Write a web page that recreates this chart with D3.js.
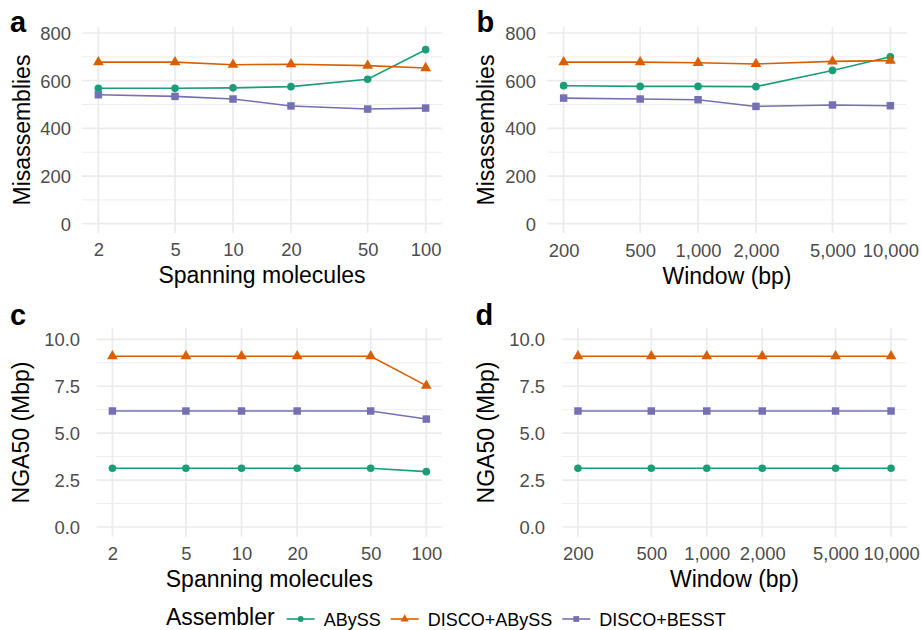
<!DOCTYPE html>
<html><head><meta charset="utf-8">
<script src="https://cdn.jsdelivr.net/npm/d3@7"></script>
<style>
body{margin:0;background:#fff;}
svg{display:block;font-family:"Liberation Sans",Arial,Helvetica,sans-serif;}
</style></head><body>
<svg id="chart" width="921" height="630"></svg>
<script>
// ---------- data ----------
const spanningMolecules = [2, 5, 10, 20, 50, 100];
const spanningTickLabels = ["2", "5", "10", "20", "50", "100"];
const windowSizes = [200, 500, 1000, 2000, 5000, 10000];
const windowTickLabels = ["200", "500", "1,000", "2,000", "5,000", "10,000"];
const assemblers = ["ABySS", "DISCO+ABySS", "DISCO+BESST"];

const misTicks = [0, 200, 400, 600, 800];
const misTickLabels = ["0", "200", "400", "600", "800"];
const misMinorTicks = [100, 300, 500, 700];
const ngaTicks = [0, 2.5, 5, 7.5, 10];
const ngaTickLabels = ["0.0", "2.5", "5.0", "7.5", "10.0"];
const ngaMinorTicks = [1.25, 3.75, 6.25, 8.75];

// panel a: misassemblies vs spanning molecules
const misSpanABySS      = [568, 568, 570, 575, 606, 730];
const misSpanDiscoABySS = [678, 678, 667, 669, 663, 653];
const misSpanDiscoBESST = [541, 534, 523, 494, 481, 485];
// panel b: misassemblies vs window
const misWinABySS      = [579, 576, 576, 575, 643, 700];
const misWinDiscoABySS = [678, 678, 675, 670, 681, 684];
const misWinDiscoBESST = [527, 523, 520, 492, 498, 495];
// panel c: NGA50 vs spanning molecules
const ngaSpanABySS      = [3.13, 3.13, 3.13, 3.13, 3.13, 2.95];
const ngaSpanDiscoABySS = [9.10, 9.10, 9.10, 9.10, 9.10, 7.53];
const ngaSpanDiscoBESST = [6.18, 6.18, 6.18, 6.18, 6.18, 5.75];
// panel d: NGA50 vs window
const ngaWinABySS      = [3.13, 3.13, 3.13, 3.13, 3.13, 3.13];
const ngaWinDiscoABySS = [9.10, 9.10, 9.10, 9.10, 9.10, 9.10];
const ngaWinDiscoBESST = [6.18, 6.18, 6.18, 6.18, 6.18, 6.18];

// ---------- style ----------
const colors = ["#1B9E77", "#D95F02", "#7570B3"];
const shapes = [d3.symbolCircle, d3.symbolTriangle, d3.symbolSquare];
const symSizes = [46, 50, 56];
const gridColor = "#EBEBEB";
const tickColor = "#4D4D4D";

const svg = d3.select("#chart");

const panels = [
  { letter: "a", lx: 10, ly: 32,
    rect: {x0: 82, x1: 442, y0: 27, y1: 233}, yRange: [223.7, 33], yDomain: [0, 800],
    xVals: spanningMolecules, xLabels: spanningTickLabels,
    yTicks: misTicks, yLabels: misTickLabels, yMinor: misMinorTicks,
    series: [misSpanABySS, misSpanDiscoABySS, misSpanDiscoBESST],
    yLabelX: 71, yTitleX: 29.5, yTitle: "Misassemblies",
    xTitle: "Spanning molecules", xTickY: 256, xTitleY: 283 },
  { letter: "b", lx: 476.5, ly: 32,
    rect: {x0: 547.3, x1: 906.7, y0: 27, y1: 233}, yRange: [223.7, 33], yDomain: [0, 800],
    xVals: windowSizes, xLabels: windowTickLabels,
    yTicks: misTicks, yLabels: misTickLabels, yMinor: misMinorTicks,
    series: [misWinABySS, misWinDiscoABySS, misWinDiscoBESST],
    yLabelX: 536, yTitleX: 494, yTitle: "Misassemblies",
    xTitle: "Window (bp)", xTickY: 256.5, xTitleY: 284 },
  { letter: "c", lx: 10, ly: 325,
    rect: {x0: 96.7, x1: 442, y0: 328.3, y1: 536.7}, yRange: [527, 339.3], yDomain: [0, 10],
    xVals: spanningMolecules, xLabels: spanningTickLabels,
    yTicks: ngaTicks, yLabels: ngaTickLabels, yMinor: ngaMinorTicks,
    series: [ngaSpanABySS, ngaSpanDiscoABySS, ngaSpanDiscoBESST],
    yLabelX: 80, yTitleX: 28.5, yTitle: "NGA50 (Mbp)",
    xTitle: "Spanning molecules", xTickY: 560, xTitleY: 587 },
  { letter: "d", lx: 475.5, ly: 325,
    rect: {x0: 562.3, x1: 906.7, y0: 328.3, y1: 536.7}, yRange: [527, 339.3], yDomain: [0, 10],
    xVals: windowSizes, xLabels: windowTickLabels,
    yTicks: ngaTicks, yLabels: ngaTickLabels, yMinor: ngaMinorTicks,
    series: [ngaWinABySS, ngaWinDiscoABySS, ngaWinDiscoBESST],
    yLabelX: 545, yTitleX: 493.5, yTitle: "NGA50 (Mbp)",
    xTitle: "Window (bp)", xTickY: 560, xTitleY: 587 }
];

panels.forEach(p => {
  const r = p.rect;
  const pad = (r.x1 - r.x0) * 0.05 / 1.1;
  const x = d3.scaleLog().domain(d3.extent(p.xVals)).range([r.x0 + pad, r.x1 - pad]);
  const y = d3.scaleLinear().domain(p.yDomain).range(p.yRange);
  const g = svg.append("g");

  // minor horizontal grid
  g.append("g").selectAll("line").data(p.yMinor).join("line")
    .attr("x1", r.x0).attr("x2", r.x1)
    .attr("y1", d => y(d)).attr("y2", d => y(d))
    .attr("stroke", gridColor).attr("stroke-width", 0.9);
  // major horizontal grid
  g.append("g").selectAll("line").data(p.yTicks).join("line")
    .attr("x1", r.x0).attr("x2", r.x1)
    .attr("y1", d => y(d)).attr("y2", d => y(d))
    .attr("stroke", gridColor).attr("stroke-width", 1.7);
  // vertical grid
  g.append("g").selectAll("line").data(p.xVals).join("line")
    .attr("x1", d => x(d)).attr("x2", d => x(d))
    .attr("y1", r.y0).attr("y2", r.y1)
    .attr("stroke", gridColor).attr("stroke-width", 1.7);

  // x axis labels
  const xAxis = d3.axisBottom(x).tickValues(p.xVals)
    .tickFormat((d, i) => p.xLabels[i]).tickSize(0).tickPadding(0);
  const xa = g.append("g").attr("transform", `translate(0,${p.xTickY})`).call(xAxis);
  xa.select(".domain").remove();
  xa.selectAll("text").attr("y", 0).attr("dy", null)
    .attr("fill", tickColor).style("font-size", "18.4px")
    .style("font-family", '"Liberation Sans",Arial,sans-serif');

  // y axis labels
  const yAxis = d3.axisLeft(y).tickValues(p.yTicks)
    .tickFormat((d, i) => p.yLabels[i]).tickSize(0).tickPadding(0);
  const ya = g.append("g").attr("transform", `translate(${p.yLabelX},0)`).call(yAxis);
  ya.select(".domain").remove();
  ya.selectAll("text").attr("x", 0).attr("dy", "0.35em")
    .attr("fill", tickColor).style("font-size", "18.4px")
    .style("font-family", '"Liberation Sans",Arial,sans-serif');

  // titles
  g.append("text").attr("x", (r.x0 + r.x1) / 2).attr("y", p.xTitleY)
    .attr("text-anchor", "middle").style("font-size", "23px").attr("fill", "#000")
    .text(p.xTitle);
  g.append("text")
    .attr("transform", `translate(${p.yTitleX},${(r.y0 + r.y1) / 2}) rotate(-90)`)
    .attr("text-anchor", "middle").style("font-size", "23px").attr("fill", "#000")
    .text(p.yTitle);
  g.append("text").attr("x", p.lx).attr("y", p.ly)
    .style("font-size", "29px").style("font-weight", "bold").attr("fill", "#000")
    .text(p.letter);

  // series
  const line = d3.line().x((d, i) => x(p.xVals[i])).y(d => y(d));
  p.series.forEach((vals, si) => {
    g.append("path").datum(vals).attr("d", line)
      .attr("fill", "none").attr("stroke", colors[si]).attr("stroke-width", 1.6);
    g.append("g").selectAll("path").data(vals).join("path")
      .attr("transform", (d, i) => `translate(${x(p.xVals[i])},${y(d)})`)
      .attr("d", d3.symbol().type(shapes[si]).size(symSizes[si]))
      .attr("fill", colors[si]);
  });
});

// ---------- legend ----------
const legend = svg.append("g").attr("transform", "translate(166,0)");
const legTitle = legend.append("text").attr("x", 0).attr("y", 625)
  .style("font-size", "23px").attr("fill", "#000").text("Assembler");
let cx = legTitle.node().getComputedTextLength() + 12;
assemblers.forEach((name, i) => {
  legend.append("line").attr("x1", cx).attr("x2", cx + 28)
    .attr("y1", 619).attr("y2", 619)
    .attr("stroke", colors[i]).attr("stroke-width", 1.6);
  legend.append("path").attr("transform", `translate(${cx + 14},619)`)
    .attr("d", d3.symbol().type(shapes[i]).size(symSizes[i] * 0.6))
    .attr("fill", colors[i]);
  const t = legend.append("text").attr("x", cx + 37).attr("y", 625.5)
    .style("font-size", "18px").attr("fill", "#000").text(name);
  cx += 37 + t.node().getComputedTextLength() + 10;
});
</script>
</body></html>
